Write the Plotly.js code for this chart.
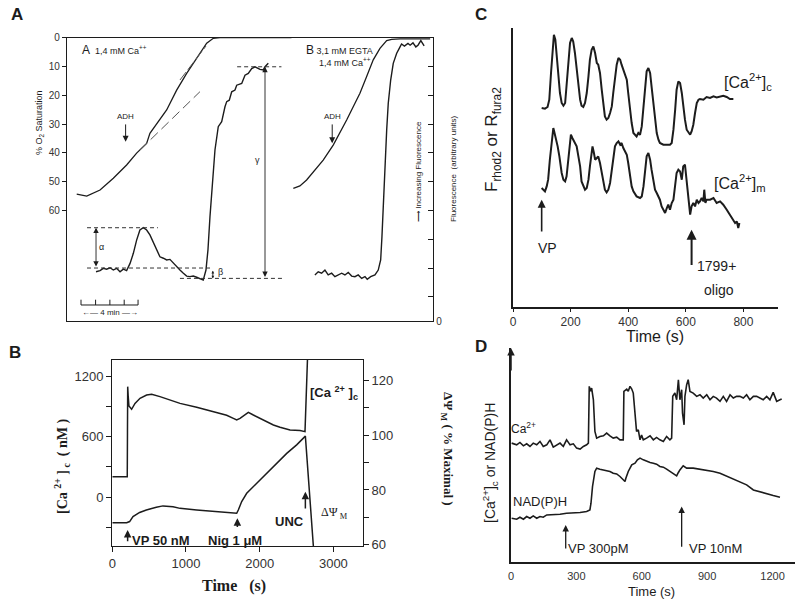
<!DOCTYPE html>
<html><head><meta charset="utf-8">
<script src="https://cdn.plot.ly/plotly-3.0.1.min.js"></script>
<style>html,body{margin:0;padding:0;background:#fff}</style>
</head><body><div id="chart" style="width:800px;height:602px"></div>
<script>
// ---------- Panel A (time in min; O2 % saturation; fluorescence arbitrary units) ----------
const aO2Time = [0.68,1.38,2.31,3.24,4.17,4.87,5.57,5.80,6.97,7.67,8.37,9.30,9.77,10.23,10.7,13.0,15.7];
const aO2Sat  = [54.3,55.0,52.9,48.8,44.2,40.1,36.7,33.2,25.1,18.2,12.4,5.4,1.9,0.2,0,0,0];
const aTanLowTime = [5.1,9.3];   const aTanLowSat = [39,18.75];
const aTanUpTime  = [7.9,9.72];  const aTanUpSat  = [14.7,2.9];
const aFlTime = [2.03,2.31,2.54,2.77,3.01,3.24,3.47,3.71,3.94,4.17,4.41,4.64,4.87,5.10,5.34,5.57,5.80,6.03,6.27,6.50,6.74,6.97,7.20,7.44,7.67,7.90,8.14,8.37,8.60,8.83,9.07,9.30,9.53,9.72,9.86,10.0,10.16,10.35,10.58,10.82,11.05,11.17,11.35,11.52,11.75,11.87,12.22,12.45,12.68,12.92,13.15,13.50,13.73,13.85,14.08];
const aFlVal  = [17.1,17.5,18.3,18.0,18.5,17.7,18.3,17.1,18.0,17.5,20.0,23.5,28.1,31.6,32.4,31.6,29.9,27.5,25.2,22.3,21.8,21.2,21.4,20.0,18.9,17.7,16.6,15.6,15.4,15.6,15.2,14.8,14.2,17.7,24.7,36.2,47.8,59.4,67.5,69.2,74.4,76.2,76.7,79.6,80.2,81.9,82.5,85.4,86.0,87.7,88.3,87.4,87.2,88.3,89.5];
const bO2Time = [15.83,16.29,16.76,17.22,17.92,18.62,19.09,19.56,20.02,20.49,20.96,21.42,21.89,22.36,22.71,23.29,25.4];
const bO2Sat  = [52.3,51.5,49.4,46.5,42.5,37.3,33.2,28.6,24.0,19.3,13.5,7.7,3.7,1.0,0.6,0.4,0.4];
const bFlTime = [17.34,17.57,17.81,18.04,18.27,18.51,18.74,18.97,19.21,19.44,19.67,19.91,20.14,20.37,20.61,20.84,21.0,21.24,21.54,21.77,21.94,22.03,22.12,22.24,22.36,22.47,22.64,22.82,23.06,23.24,23.4,23.6,23.85,24.0,24.2,24.4,24.55,24.75,24.9,24.98];
const bFlVal  = [16.0,17.1,16.6,17.7,16.0,16.6,15.4,16.0,16.6,16.0,16.9,15.6,15.4,16.0,14.8,15.4,14.5,15.4,16.0,17.7,21.2,29.3,40.9,54.8,66.3,75.6,83.7,89.5,93.0,94.7,96.2,95.5,96.4,95.8,96.6,95.2,95.8,97.4,96.0,95.6];
const aO2Ticks = [0,10,20,30,40,50,60];

// ---------- Panel B (time s; [Ca2+]c nM; dPsi % maximal) ----------
const bCaTime = [0,100,203,206,209,216,226,262,308,376,466,534,647,783,919,1145,1371,1552,1643,1688,1733,1778,1824,1846,1914,2050,2186,2276,2412,2548,2615,2650];
const bCaVal  = [202,202,202,650,1097,1000,905,872,931,981,1014,1021,998,965,931,892,849,812,782,766,782,806,839,842,815,766,716,693,666,660,650,1400];
const bPsiTime = [0,195,235,281,371,462,597,688,824,919,1145,1371,1552,1688,1710,1756,1824,1960,2095,2231,2367,2502,2593,2620,2729];
const bPsiVal  = [68.1,68.1,68.5,70.3,71.8,72.7,73.7,74.2,73.9,73.3,72.7,72.1,71.8,71.5,72.7,75.8,78.8,82.4,86.1,89.7,93.3,96.4,98.8,99.6,59.4];
const bXTicks = [0,1000,2000,3000];
const bCaTicks = [-300,0,300,600,900,1200];
const bCaTickText = ['','0','','600','','1200'];
const bPsiTicks = [60,70,80,90,100,110,120];
const bPsiTickText = ['60','','80','','100','','120'];

// ---------- Panel C (time s; fluorescence arbitrary units) ----------
const cCytTime = [99.5,111,120,126,132,138,142,147,152,157,163,169,175,181,186,192,198,204,209,215,221,227,233,238,244,250,256,262,267,273,279,285,291,296,302,308,314,319,325,331,337,343,348,354,360,366,372,377,383,389,395,400,406,412,418,424,429,435,441,447,453,458,464,470,476,481,487,493,499,505,510,522,534,545,551,557,563,568,574,580,586,591,597,603,609,615,620,626,632,638,644,649,661,672,684,696,707,719,730,742,753,765];
const cCytVal  = [198.7,198,199.7,207,233.7,260.3,272,267,250.3,230.3,213.7,203.7,201,203.7,220.3,247,263.7,268.7,265.3,253.7,237,220.3,207,201,199.7,203.7,213.7,230.3,247,257,260.3,253.7,243.7,242,233.7,217,200.3,190.3,187,188.7,193.7,200.3,213.7,230.3,242,248.7,247,242,237,233.7,227,213.7,197,183.7,173.7,172,170.3,173.7,172,180.3,200.3,220.3,235.3,238.7,233.7,220.3,203.7,187,173.7,167,163.7,162,161.7,162,163.7,177,197,217,225.3,223.7,213.7,200.3,187,177,173.7,172,175.3,182,193.7,203.7,207,207.7,207,209.7,208.7,210.3,209.3,210.3,211,209.7,207.7,207.7];
const cMitTime = [99.5,105,111,117,122,128,134,140,143,147,152,155,161,169,175,181,186,192,198,201,206,209,215,221,227,233,238,244,250,256,262,267,273,276,281,285,291,296,302,308,314,319,325,331,337,343,348,354,360,366,372,377,383,389,395,400,406,412,418,429,441,447,453,458,464,470,476,481,487,493,499,505,510,516,522,528,534,539,545,551,557,563,568,574,580,586,591,597,601,605,610,615,620,626,632,638,644,649,655,661,664,668,672,684,696,707,719,730,742,753,765,771,777,782,786];
const cMitVal  = [118.7,117,115.3,120.3,127,147,167,178.7,175.3,170.3,167,160.3,150.3,133.7,127,125.3,130.3,150.3,167,172,168.7,167,163.7,160.3,150.3,140.3,125.3,120.3,117,118.7,127,140.3,153.7,160.3,153.7,147,148.7,150.3,143.7,133.7,122,117,114.3,117,123.7,137,150.3,160.3,163.7,165.3,162,163.7,158.7,155.3,152,143.7,133.7,120.3,115.3,110.3,108.7,110.3,120.3,137,150.3,153.7,147,137,125.3,117,113.7,110.3,107,100.3,97,93.7,98.7,102,97,103.7,107,120.3,133.7,137,135.3,127,140.3,142,130.3,113.7,100.3,92,100.3,103.7,100.3,107,103.7,105.3,108.7,105.3,117,103.7,107,107,108.7,103.7,105.3,102,97,92,87,83.7,85.3,78.7,83.7];
const cXTicks = [0,200,400,600,800];

// ---------- Panel D (time s; arbitrary units) ----------
const dCaTime = [3,26,41,57,72,87,102,118,133,148,164,179,194,209,225,240,255,271,286,301,317,332,347,355,359,365,370,378,385,393,408,424,439,454,469,485,500,515,518,531,538,546,554,561,569,576,584,592,599,607,622,638,653,668,683,699,714,729,737,742,752,760,768,775,783,787,794,798,806,813,821,836,852,867,882,898,913,928,943,959,974,989,1005,1020,1035,1050,1066,1081,1096,1112,1127,1142,1157,1173,1188,1203,1211,1219,1234,1242];
const dCaVal  = [119,117.3,119.7,116.3,118.3,115.7,119,117.3,120.7,115.7,117.3,122.3,115,117.3,119,115.7,122.3,117.3,118.3,114,113,115.7,117.3,119,175.7,170.7,174,162.3,130.7,124,125.7,126.3,129,126.3,124,125,122.3,122.3,170.7,173,170.7,175.7,173,169,149,130.7,132.3,122.3,127,122.3,124,126.3,122.3,124.7,122.3,120.7,125.7,122.3,124,165.7,169,162.3,182.3,162.3,172.3,149,137.3,165.7,177.3,182.3,170.7,169,165.7,167.3,164,167.3,162.3,165.7,164,160.7,165.7,160.7,167.3,164,165.7,165.7,164,167.3,162.3,165.7,165.7,164,162.3,165.7,162.3,169.7,164,160.7,162.3,163];
const dNadTime = [3,26,41,57,72,87,102,118,133,148,164,194,225,255,286,317,347,362,367,374,385,393,408,424,439,454,469,485,500,515,523,527,538,554,569,580,592,607,622,638,653,668,683,699,714,729,745,760,768,775,790,806,836,867,898,928,959,989,1020,1050,1081,1112,1142,1173,1203,1234];
const dNadVal  = [44,43,45,43,45.7,44,46.3,44,45.7,45,47.3,47.3,48,49,49,49.7,50.7,52.3,59,75.7,90.7,94,93,92.3,91.7,90.7,89,88.3,85.7,83,80.7,84,90.7,97.3,99,102.3,104,102.3,100.7,99.7,99,98,95.7,95,93,90.7,89,86.3,89.7,92.3,96.3,94,94,93,92.3,90.7,89,86.3,83,80.7,77.3,72.3,70.7,69,66.7,65];
const dXTicks = [0,300,600,900,1200];

const INK = '#1c1c1c';
const line = (w) => ({color: INK, width: w});
const traces = [
  {x:aO2Time, y:aO2Sat, xaxis:'x', yaxis:'y', mode:'lines', line:line(1.3)},
  {x:aTanLowTime, y:aTanLowSat, xaxis:'x', yaxis:'y', mode:'lines', line:{color:'#555', width:1, dash:'10px,5px'}},
  {x:aTanUpTime, y:aTanUpSat, xaxis:'x', yaxis:'y', mode:'lines', line:{color:'#555', width:1, dash:'10px,3px'}},
  {x:bO2Time, y:bO2Sat, xaxis:'x', yaxis:'y', mode:'lines', line:line(1.3)},
  {x:aFlTime, y:aFlVal, xaxis:'x', yaxis:'y2', mode:'lines', line:line(1.4)},
  {x:bFlTime, y:bFlVal, xaxis:'x', yaxis:'y2', mode:'lines', line:line(1.4)},
  {x:bCaTime, y:bCaVal, xaxis:'x2', yaxis:'y4', mode:'lines', line:line(1.5)},
  {x:bPsiTime, y:bPsiVal, xaxis:'x2', yaxis:'y5', mode:'lines', line:line(1.5)},
  {x:cCytTime, y:cCytVal, xaxis:'x3', yaxis:'y6', mode:'lines', line:line(2)},
  {x:cMitTime, y:cMitVal, xaxis:'x3', yaxis:'y6', mode:'lines', line:line(2)},
  {x:dCaTime, y:dCaVal, xaxis:'x4', yaxis:'y7', mode:'lines', line:line(1.6)},
  {x:dNadTime, y:dNadVal, xaxis:'x4', yaxis:'y7', mode:'lines', line:line(1.6)}
];
traces.forEach(t => { t.hoverinfo = 'skip'; t.showlegend = false; });

const P = (px) => px / 800, Q = (py) => 1 - py / 602;
const axBase = {showgrid:false, zeroline:false, linecolor:INK, tickcolor:INK, fixedrange:true};
const fA = {family:'Arial, Liberation Sans, sans-serif', size:10, color:'#333'};
const SERIF = 'Liberation Serif, Times New Roman, serif';

function arrowAnn(xref, yref, x, yHead, yTail, extra) {
  return Object.assign({xref:xref, yref:yref, axref:xref, ayref:yref, x:x, y:yHead, ax:x, ay:yTail,
    text:'', showarrow:true, arrowhead:2, arrowsize:1, arrowwidth:1.4, arrowcolor:INK}, extra||{});
}
function txt(xref, yref, x, y, text, size, extra) {
  return Object.assign({xref:xref, yref:yref, x:x, y:y, text:text, showarrow:false,
    xanchor:'center', yanchor:'middle',
    font:{family:'Arial, Liberation Sans, sans-serif', size:size, color:INK}}, extra||{});
}

const annotations = [
  // panel letters
  txt('paper','paper',P(17),Q(15),'<b>A</b>',17),
  txt('paper','paper',P(15),Q(352),'<b>B</b>',17),
  txt('paper','paper',P(481),Q(14),'<b>C</b>',17),
  txt('paper','paper',P(481),Q(347),'<b>D</b>',17),
  // Panel A texts
  txt('x','y',0.9,4.4,'<span style="font-size:12px">A</span>  1,4 mM Ca<sup>++</sup>',9,{xanchor:'left'}),
  txt('x','y',16.6,4.4,'<span style="font-size:12px">B</span> 3,1 mM EGTA',9,{xanchor:'left'}),
  txt('x','y',17.5,8.6,'1,4 mM Ca<sup>++</sup>',9,{xanchor:'left'}),
  txt('x','y',4.10,27.3,'ADH',8),
  arrowAnn('x','y',4.10,36.1,29.6,{arrowwidth:1,arrowsize:1.2}),
  txt('x','y',18.55,27.3,'ADH',8),
  arrowAnn('x','y',18.55,36.7,29.6,{arrowwidth:1,arrowsize:1.2}),
  arrowAnn('x','y2',2.03,32.4,18.4,{arrowside:'end+start',arrowwidth:0.9,arrowsize:1.2}),
  arrowAnn('x','y2',13.85,88.3,14.8,{arrowside:'end+start',arrowwidth:0.9,arrowsize:1.2}),
  arrowAnn('x','y2',10.2,14.8,18.0,{arrowside:'end+start',arrowwidth:0.9,arrowsize:0.6}),
  txt('x','y2',2.4,25.8,'α',9),
  txt('x','y2',13.3,55.9,'γ',9),
  txt('x','y2',10.75,17.0,'β',9),
  txt('x','y2',2.98,3.1,'←— 4 min —→',8),
  txt('paper','paper',P(40),Q(123),'% O<sub>2</sub> Saturation',9,{textangle:-90}),
  txt('paper','paper',P(418),Q(172),'⟶ Increasing Fluorescence',8,{textangle:-90}),
  txt('paper','paper',P(453),Q(169),'Fluorescence  (arbitrary units)',8,{textangle:-90}),
  // Panel B texts
  arrowAnn('x2','y4',208,-328,-454,{arrowwidth:1.5}),
  arrowAnn('x2','y4',1697,-212,-312,{arrowwidth:1.5}),
  arrowAnn('x2','y4',2620,53,-129,{arrowwidth:1.5}),
  txt('x2','y4',656,-428,'<b>VP 50 nM</b>',13),
  txt('x2','y4',1665,-428,'<b>Nig 1 μM</b>',13),
  txt('x2','y4',2403,-245,'<b>UNC</b>',13),
  txt('x2','y4',3010,1031,'<b>[Ca <sup>2+</sup> ]<sub>c</sub></b>',13),
  txt('x2','y4',3010,-162,'ΔΨ<sub> M</sub>',12,{font:{family:SERIF,size:12,color:INK}}),
  txt('paper','paper',P(62),Q(467),'<b>[Ca <sup>2+</sup> ]<sub> c</sub>  ( nM )</b>',14,{textangle:-90,font:{family:SERIF,size:14,color:INK}}),
  txt('paper','paper',P(447),Q(449),'<b>ΔΨ<sub> M</sub> ( % Maximal )</b>',13,{textangle:90,font:{family:SERIF,size:13,color:INK}}),
  txt('paper','paper',P(234),Q(586),'<b>Time   (s)</b>',16,{font:{family:SERIF,size:16,color:INK}}),
  // Panel C texts
  arrowAnn('x3','y6',99.5,107,73.7,{arrowwidth:1.6}),
  arrowAnn('x3','y6',620,77,40.3,{arrowwidth:2}),
  txt('x3','y6',119,58.7,'VP',14),
  txt('x3','y6',707,40.3,'1799+',14),
  txt('x3','y6',716,17,'oligo',14),
  txt('x3','y6',817,225,'[Ca<sup>2+</sup>]<sub>c</sub>',16),
  txt('x3','y6',786,123.7,'[Ca<sup>2+</sup>]<sub>m</sub>',16),
  txt('paper','paper',P(655),Q(337),'Time (s)',16),
  txt('paper','paper',P(493),Q(140),'F<sub>rhod2</sub> or R<sub>fura2</sub>',17,{textangle:-90}),
  // Panel D texts
  arrowAnn('x4','y7',0,214,190,{arrowwidth:1.5}),
  arrowAnn('x4','y7',251,37.3,12.3,{arrowwidth:1.3}),
  arrowAnn('x4','y7',783,55.7,14,{arrowwidth:1.3}),
  txt('x4','y7',399,14,'VP 300pM',13),
  txt('x4','y7',936,14,'VP 10nM',13),
  txt('x4','y7',57,134,'Ca<sup>2+</sup>',12),
  txt('x4','y7',133,60.7,'NAD(P)H',13),
  txt('paper','paper',P(651),Q(591),'Time (s)',13),
  txt('paper','paper',P(490),Q(463),'[Ca<sup>2+</sup>]<sub>c</sub> or NAD(P)H',14,{textangle:-90})
];

const dashS = {color:'#333', width:1, dash:'4px,3px'};
const shapes = [
  {type:'line', xref:'x', yref:'y2', x0:1.40, x1:6.36, y0:32.4, y1:32.4, line:dashS},
  {type:'line', xref:'x', yref:'y2', x0:1.40, x1:10.2, y0:18.4, y1:18.4, line:dashS},
  {type:'line', xref:'x', yref:'y2', x0:7.90, x1:15.1, y0:14.8, y1:14.8, line:dashS},
  {type:'line', xref:'x', yref:'y2', x0:11.9, x1:15.0, y0:88.3, y1:88.3, line:dashS},
  {type:'line', xref:'x', yref:'y2', x0:0.98, x1:4.97, y0:5.56, y1:5.56, line:{color:INK,width:1}}
].concat([0.98,2,3,4,4.97].map(v => ({type:'line', xref:'x', yref:'y2', x0:v, x1:v, y0:5.56, y1:7.4, line:{color:INK,width:1}})));

const layout = {
  width:800, height:602, margin:{l:0,r:0,t:0,b:0}, paper_bgcolor:'#fff', plot_bgcolor:'#fff', showlegend:false,
  xaxis: Object.assign({}, axBase, {domain:[P(67),P(433)], range:[0,25.6], anchor:'y', showline:true, mirror:true, linewidth:1.2, ticks:'', showticklabels:false}),
  yaxis: Object.assign({}, axBase, {domain:[Q(321),Q(37.7)], range:[98.4,0], anchor:'x', showline:true, linewidth:1.2, tickvals:aO2Ticks, ticks:'outside', ticklen:4, tickfont:fA}),
  yaxis2: Object.assign({}, axBase, {overlaying:'y', side:'right', anchor:'x', range:[0,98.4], showline:true, linewidth:1.2, tickvals:[0,8.4,18.4,28.4,38.4,48.4,58.4,68.4,78.4,88.4], ticktext:['0','','','','','','','','',''], ticks:'inside', ticklen:5, tickfont:fA}),
  yaxis3: Object.assign({}, axBase, {overlaying:'y', anchor:'free', position:P(292), side:'left', range:[98.4,0], showline:true, linewidth:1.2, tickvals:[10,20,30,40,50,60], ticks:'inside', ticklen:5, showticklabels:false}),
  xaxis2: Object.assign({}, axBase, {domain:[P(112.3),P(362.7)], range:[0,3398], anchor:'y4', showline:true, mirror:true, linewidth:1.3, tickvals:bXTicks, ticks:'outside', ticklen:5, tickfont:{family:'Arial',size:13,color:'#333'}}),
  yaxis4: Object.assign({}, axBase, {domain:[Q(546),Q(360)], range:[-487,1362], anchor:'x2', showline:true, linewidth:1.3, tickvals:bCaTicks, ticktext:bCaTickText, ticks:'outside', ticklen:5, tickfont:{family:'Arial',size:13,color:'#333'}}),
  yaxis5: Object.assign({}, axBase, {overlaying:'y4', side:'right', anchor:'x2', range:[59.6,127.3], showline:true, linewidth:1.3, tickvals:bPsiTicks, ticktext:bPsiTickText, ticks:'outside', ticklen:5, tickfont:{family:'Arial',size:13,color:'#333'}}),
  xaxis3: Object.assign({}, axBase, {domain:[P(513),P(778)], range:[0,920], anchor:'y6', showline:true, linewidth:2, tickvals:cXTicks, ticks:'outside', ticklen:3, tickfont:{family:'Arial',size:12,color:'#333'}}),
  yaxis6: Object.assign({}, axBase, {domain:[Q(306.7),Q(28)], range:[0,278.7], anchor:'x3', showline:true, linewidth:2, ticks:'', showticklabels:false}),
  xaxis4: Object.assign({}, axBase, {domain:[P(511),P(795)], range:[0,1303], anchor:'y7', showline:true, linewidth:1.6, tickvals:dXTicks, ticks:'outside', ticklen:3, tickcolor:'rgba(0,0,0,0)', tickfont:{family:'Arial',size:11,color:'#333'}}),
  yaxis7: Object.assign({}, axBase, {domain:[Q(562.3),Q(348)], range:[0,214], anchor:'x4', showline:true, linewidth:1.6, ticks:'', showticklabels:false}),
  annotations: annotations,
  shapes: shapes
};
Plotly.newPlot('chart', traces, layout, {staticPlot:true, displayModeBar:false});
</script></body></html>
